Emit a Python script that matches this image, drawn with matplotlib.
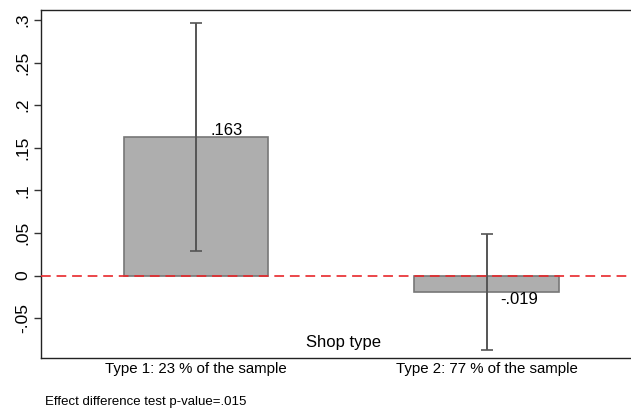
import matplotlib.pyplot as plt

plt.rcParams['font.family'] = ['Liberation Sans', 'DejaVu Sans']

# data
groups = ["Type 1: 23 % of the sample", "Type 2: 77 % of the sample"]
effects = [0.163, -0.019]
ci_low = [0.029, -0.087]
ci_high = [0.297, 0.049]
value_labels = [".163", "-.019"]
yticks = [-0.05, 0, 0.05, 0.1, 0.15, 0.2, 0.25, 0.3]
ytick_labels = ["-.05", "0", ".05", ".1", ".15", ".2", ".25", ".3"]
pos = [1, 2]

fig = plt.figure(figsize=(6.31, 4.08), dpi=100)
ax = fig.add_axes([0.065, 0.1225, 0.935, 0.853])

ax.bar(pos, effects, width=0.497, color="#aeaeae", edgecolor="#777777", lw=1.2, zorder=1)
err_lo = [e - l for e, l in zip(effects, ci_low)]
err_hi = [h - e for e, h in zip(effects, ci_high)]
ax.errorbar(pos, effects, yerr=[err_lo, err_hi], fmt="none", ecolor="#555555",
            elinewidth=1.4, capsize=4, capthick=1.2, zorder=3)
ax.axhline(0, color="#e8262a", ls=(0, (5, 3)), lw=1.4, alpha=0.85, zorder=4)

for p, e, lab in zip(pos, effects, value_labels):
    va = "bottom" if e >= 0 else "top"
    ax.annotate(lab, (p, e), xytext=(10, -1 if e >= 0 else 0), textcoords="offset points",
                ha="left", va=va, fontsize=12)

ax.text(1.507, -0.078, "Shop type", ha="center", va="center", fontsize=12)

ax.set_xlim(0.466, 2.497)
ax.set_ylim(-0.0966, 0.3117)
ax.set_xticks(pos)
ax.set_xticklabels(groups, fontsize=10.8)
ax.tick_params(axis="x", length=0, pad=3)
ax.set_yticks(yticks)
ax.set_yticklabels(ytick_labels, rotation=90, va="center", fontsize=12.5)
ax.tick_params(axis="y", length=5, width=1, color="#333333", pad=3)

ax.spines["right"].set_visible(False)
for s in ["left", "top", "bottom"]:
    ax.spines[s].set_color("#222222")
    ax.spines[s].set_linewidth(1)

fig.text(45 / 631, 1 - 402.5 / 408, "Effect difference test p-value=.015", fontsize=9.5,
         ha="left", va="center")

fig.savefig("out.png", dpi=100)
